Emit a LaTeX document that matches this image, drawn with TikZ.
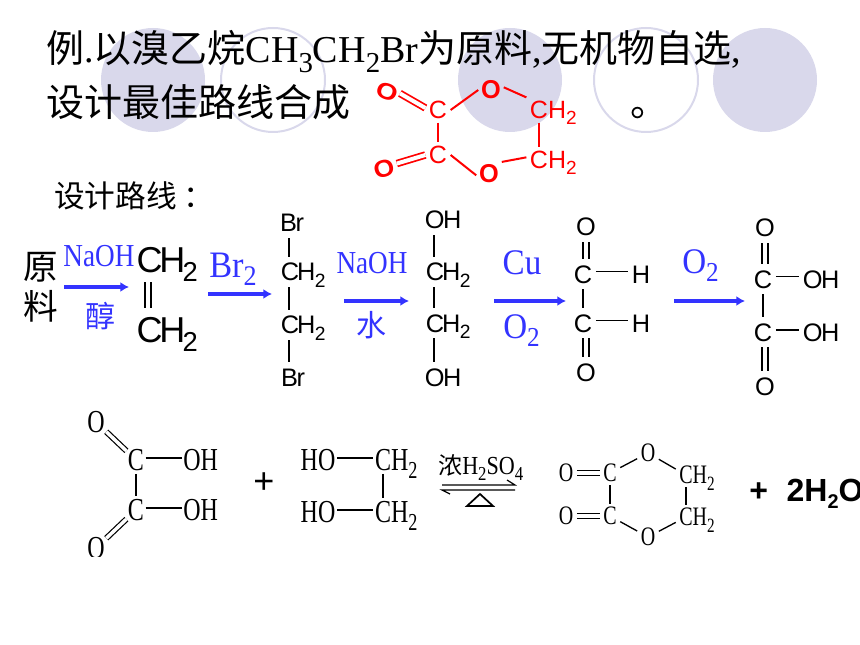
\documentclass[tikz,border=0pt]{standalone}
\usetikzlibrary{arrows.meta}
\usepackage{graphicx}
\usepackage{fontspec}
\setmainfont{Liberation Serif}
\setsansfont{Liberation Sans}
\newfontfamily\cjk{Noto Sans CJK SC}
\newfontfamily\serifA[FakeStretch=0.75]{Liberation Serif}
\newfontfamily\serifB[FakeStretch=0.85]{Liberation Serif}
\newfontfamily\serifC[FakeStretch=0.92]{Liberation Serif}
\newcommand\lowsub[1]{\raisebox{-0.24em}{\scalebox{0.62}{#1}}}
\newcommand\bigsub[1]{\raisebox{-0.24em}{\scalebox{0.76}{#1}}}
\definecolor{deco}{HTML}{D9D8EB}
\definecolor{chemblue}{HTML}{3333FF}
\tikzset{
  disc/.style={circle,fill=deco,minimum size=78pt,inner sep=0pt},
  ring/.style={circle,draw=deco,line width=1.5pt,minimum size=78pt,inner sep=0pt},
  title/.style={anchor=base west,inner sep=0pt,font=\fontsize{28.5}{30}\selectfont},
  bluelab/.style={text=chemblue,inner sep=0pt},
  blueserif/.style={bluelab,font=\fontsize{24}{26}\serifB},
  bluecjk/.style={bluelab,font=\fontsize{22.5}{24}\cjk},
  rarrow/.style={draw=chemblue,line width=2.5pt,-{Latex[length=6.5pt,width=7.5pt]}},
  redatom/.style={text=red,inner sep=2.5pt,text height=13.5pt,text depth=0pt,font=\fontsize{18.75}{20}\sffamily},
  redo/.style={text=red,inner sep=2pt,font=\fontsize{19}{20}\sffamily\bfseries},
  redbond/.style={draw=red,line width=1.5pt},
  reddbl/.style={draw=red,line width=1.3pt,double=white,double distance=3pt},
  bigatom/.style={inner xsep=3pt,inner ysep=7pt,text height=19pt,text depth=0pt,font=\fontsize{27}{28}\sffamily},
  midatom/.style={inner xsep=2.5pt,inner ysep=4.5pt,text height=13.5pt,text depth=0pt,font=\fontsize{19}{20}\sffamily},
  bond/.style={draw=black,line width=1.2pt},
  dbl/.style={draw=black,line width=1.1pt,double=white,double distance=3.6pt},
  lowatom/.style={inner xsep=1pt,inner ysep=2.5pt,text height=15.5pt,text depth=0pt,font=\fontsize{24}{25}\serifA},
  ringatom/.style={inner sep=2.5pt,text height=13pt,text depth=0pt,font=\fontsize{20}{21}\serifA},
  thinbond/.style={draw=black,line width=1pt},
  thindbl/.style={draw=black,line width=.9pt,double=white,double distance=2.6pt},
}
\begin{document}
\begin{tikzpicture}[x=.75pt,y=-.75pt]
\useasboundingbox (0,0) rectangle (860,645);
% decorative circles
\node[disc] (d1) at (153,80) {};
\node[ring] (d2) at (273,80) {};
\node[disc] (d3) at (510,80) {};
\node[ring] (d4) at (646,80) {};
\node[disc] (d5) at (765,80) {};
% title
\node[title] (t1) at (46,63) {{\cjk 例}.{\cjk 以溴乙烷}CH\bigsub{3}CH\bigsub{2}Br{\cjk 为原料},{\cjk 无机物自选},};
\node[title] (t2) at (46,117) {\cjk 设计最佳路线合成};
\node[title] (t3) at (630,117) {\cjk 。};
\node[anchor=base west,inner sep=0pt,font=\fontsize{23}{25}\cjk] (t4) at (54,208) {设计路线\kern5pt：};
% red molecule
\node[redatom] (rc1) at (438,110) {C};
\node[redatom] (rc2) at (438,155) {C};
\node[redatom] (rch1) at (539,110) {C\rlap{H\bigsub{2}}};
\node[redatom] (rch2) at (539,160) {C\rlap{H\bigsub{2}}};
\node[redo,rotate=-20] (ro1) at (387,92) {\scalebox{1.1}[.9]{O}};
\node[redo,rotate=15] (ro2) at (384,169) {\scalebox{1.05}[.95]{O}};
\node[redo] (ro3) at (491,90) {\scalebox{1}[1.02]{O}};
\node[redo] (ro4) at (489,174) {\scalebox{1}[1.02]{O}};
\draw[reddbl] ([yshift=1.5pt]rc1.west) -- ([yshift=2.5pt]ro1.east);
\draw[reddbl] (rc2.west) -- ([yshift=1.5pt]ro2.east);
\draw[redbond] (rc1) -- (rc2);
\draw[redbond] (rc1.east) -- (ro3.west);
\draw[redbond] ([yshift=2pt]ro3.east) -- (rch1.north west);
\draw[redbond] (rch1) -- (rch2);
\draw[redbond] ([yshift=2pt]rch2.west) -- (ro4.north east);
\draw[redbond] ([yshift=-1pt]ro4.west) -- (rc2.east);
% raw material
\node[inner sep=0pt,font=\fontsize{26}{28}\cjk] (yuan) at (41,267) {原};
\node[inner sep=0pt,font=\fontsize{26}{28}\cjk] (liao) at (41,306) {料};
% step 1
\node[blueserif] (l1) at (99,256) {NaOH};
\node[bluecjk] (l1b) at (100,316) {醇};
\coordinate (a1s) at (64,287); \coordinate (a1e) at (129,287);
\draw[rarrow] (a1s) -- (a1e);
\node[bigatom] (e1) at (148,260) {C\kern-2.5pt\rlap{H\kern-2pt\bigsub{2}}};
\node[bigatom] (e2) at (148,330) {C\kern-2.5pt\rlap{H\kern-2pt\bigsub{2}}};
\draw[dbl] (e1) -- (e2);
% step 2
\node[bluelab,font=\fontsize{28}{29}\serifC,anchor=base west] (l2) at (209,277) {Br\bigsub{2}};
\coordinate (a2s) at (208,294); \coordinate (a2e) at (272,294);
\draw[rarrow] (a2s) -- (a2e);
\node[midatom] (b1) at (292,223) {B\kern-1pt r};
\node[midatom] (b2) at (289,272) {C\kern-1.5pt\rlap{H\kern-.5pt\bigsub{2}}};
\node[midatom] (b3) at (289,325) {C\kern-1.5pt\rlap{H\kern-.5pt\bigsub{2}}};
\node[midatom] (b4) at (293,377) {B\kern-1pt r};
\draw[bond] (b1.south -| b2) -- (b2);
\draw[bond] (b2) -- (b3);
\draw[bond] (b3) -- (b4.north -| b3);
% step 3
\node[blueserif] (l3) at (372,263) {NaOH};
\node[bluecjk] (l3b) at (371,325) {水};
\coordinate (a3s) at (344,301); \coordinate (a3e) at (409,301);
\draw[rarrow] (a3s) -- (a3e);
\node[midatom] (c1) at (434,220) {O\kern-1pt\rlap{H}};
\node[midatom] (c2) at (434,272) {C\kern-1.5pt\rlap{H\kern-.5pt\bigsub{2}}};
\node[midatom] (c3) at (434,323) {C\kern-1.5pt\rlap{H\kern-.5pt\bigsub{2}}};
\node[midatom] (c4) at (434,377) {O\kern-1pt\rlap{H}};
\draw[bond] (c1) -- (c2);
\draw[bond] (c2) -- (c3);
\draw[bond] (c3) -- (c4);
% step 4
\node[bluelab,font=\fontsize{27}{28}\serifC] (l4) at (522,263) {Cu};
\node[bluelab,font=\fontsize{27}{28}\serifC,anchor=base west] (l4b) at (503,338) {O\bigsub{2}};
\coordinate (a4s) at (494,301); \coordinate (a4e) at (566,301);
\draw[rarrow] (a4s) -- (a4e);
\node[midatom] (g1) at (586,227) {O};
\node[midatom] (g2) at (583,274) {C};
\node[midatom] (g3) at (583,323) {C};
\node[midatom] (g4) at (586,372) {O};
\node[midatom] (g5) at (641,274) {H};
\node[midatom] (g6) at (641,323) {H};
\draw[dbl] (g1) -- (g1 |- g2.north);
\draw[bond] (g2) -- (g3);
\draw[dbl] (g4 |- g3.south) -- (g4);
\draw[bond] ([yshift=2pt]g2.east) -- ([yshift=2pt]g5.west);
\draw[bond] ([yshift=2pt]g3.east) -- ([yshift=2pt]g6.west);
% step 5
\node[bluelab,font=\fontsize{27}{28}\serifC,anchor=base west] (l5) at (682,273) {O\bigsub{2}};
\coordinate (a5s) at (674,301); \coordinate (a5e) at (745,301);
\draw[rarrow] (a5s) -- (a5e);
\node[midatom] (x1) at (765,228) {O};
\node[midatom] (x2) at (763,279) {C};
\node[midatom] (x3) at (763,332) {C};
\node[midatom] (x4) at (765,386) {O};
\node[midatom] (x5) at (812,279) {O\kern-1pt\rlap{H}};
\node[midatom] (x6) at (812,332) {O\kern-1pt\rlap{H}};
\draw[dbl] (x1) -- (x1 |- x2.north);
\draw[bond] (x2) -- (x3);
\draw[dbl] (x4 |- x3.south) -- (x4);
\draw[bond] ([yshift=2pt]x2.east) -- ([yshift=2pt]x5.west);
\draw[bond] ([yshift=1.5pt]x3.east) -- ([yshift=1.5pt]x6.west);
% lower row: oxalic acid
\node[lowatom] (p1) at (96,422) {O};
\node[lowatom] (p2) at (136,460) {C};
\node[lowatom] (p3) at (136,510) {C};
\begin{scope}
\clip (80,530) rectangle (112,556);
\node[lowatom] (p4) at (96,548) {O};
\end{scope}
\node[lowatom] (p5) at (192,460) {O\rlap{H}};
\node[lowatom] (p6) at (192,510) {O\rlap{H}};
\draw[thindbl] (p1) -- (p2);
\draw[thinbond] (p2) -- (p3);
\draw[thindbl] (p3) -- (p4);
\draw[thinbond] ([yshift=1.5pt]p2.east) -- ([yshift=1.5pt]p5.west);
\draw[thinbond] ([yshift=1.5pt]p3.east) -- ([yshift=1.5pt]p6.west);
\node[inner sep=0pt,font=\fontsize{27}{28}\sffamily] (plus1) at (264,483) {+};
% glycol
\node[lowatom,anchor=east] (h1) at (337,460) {HO};
\node[lowatom,anchor=east] (h2) at (337,512) {HO};
\node[lowatom] (h3) at (383,460) {C\rlap{H\bigsub{2}}};
\node[lowatom] (h4) at (383,512) {C\rlap{H\bigsub{2}}};
\draw[thinbond] ([yshift=1.5pt]h1.east) -- ([yshift=1.5pt]h3.west);
\draw[thinbond] ([yshift=1.5pt]h2.east) -- ([yshift=1.5pt]h4.west);
\draw[thinbond] (h3) -- (h4);
% reaction conditions
\node[anchor=base west,inner sep=0pt,font=\fontsize{19.5}{21}\serifB] (r1) at (438,474) {{\fontsize{18}{20}\cjk 浓}H\bigsub{2}SO\bigsub{4}};
\coordinate (ra) at (442,485); \coordinate (rb) at (515,485); \coordinate (rbb) at (507,480);
\coordinate (rc) at (515,490); \coordinate (rd) at (442,490); \coordinate (rdd) at (450,494);
\draw[line width=.9pt] (ra) -- (rb) -- (rbb);
\draw[line width=.9pt] (rc) -- (rd) -- (rdd);
\coordinate (tri1) at (480,494); \coordinate (tri2) at (467,506); \coordinate (tri3) at (493,506);
\draw[line width=1.3pt] (tri1) -- (tri2) -- (tri3) -- cycle;
% product ring
\node[ringatom] (q1) at (566,473) {O};
\node[ringatom] (q2) at (610,473) {C};
\node[ringatom] (q3) at (610,516) {C};
\node[ringatom] (q4) at (566,516) {O};
\node[ringatom] (q5) at (648,453) {O};
\node[ringatom] (q6) at (648,537) {O};
\node[ringatom] (q7) at (686,475) {C\rlap{H\bigsub{2}}};
\node[ringatom] (q8) at (686,517) {C\rlap{H\bigsub{2}}};
\draw[thindbl] (q1) -- (q2);
\draw[thindbl] (q4) -- (q3);
\draw[thinbond] (q2) -- (q3);
\draw[thinbond] (q2) -- (q5);
\draw[thinbond] (q5) -- (q7);
\draw[thinbond] (q7) -- (q8);
\draw[thinbond] (q8) -- (q6);
\draw[thinbond] (q6) -- (q3);
\node[anchor=base west,inner sep=0pt,font=\fontsize{24}{26}\sffamily\bfseries] (w) at (749,501) {+\hspace{14pt}2H\lowsub{2}O};
\end{tikzpicture}
\end{document}
